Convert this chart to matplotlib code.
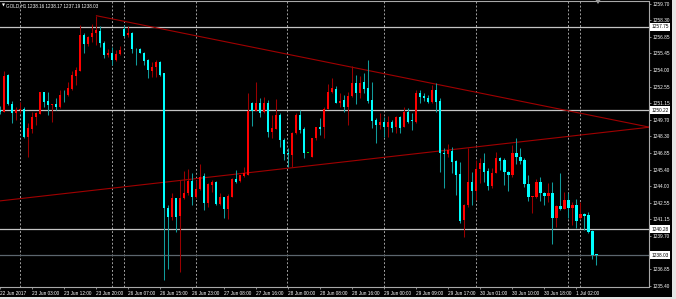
import numpy as np
import matplotlib.pyplot as plt
from matplotlib.patches import Rectangle, Polygon

# GOLD H1 candles, one row per bar
opens = [1250.60, 1250.42, 1253.55, 1251.08, 1250.33, 1250.56, 1250.65, 1248.26, 1248.92, 1249.93,
         1250.22, 1252.08, 1251.34, 1250.96, 1251.08, 1250.79, 1251.94, 1251.85, 1252.37, 1253.52,
         1253.92, 1257.03, 1256.25, 1256.83, 1257.17, 1257.40, 1256.37, 1255.28, 1255.45, 1254.87,
         1255.39, 1257.52, 1256.99, 1257.23, 1255.82, 1255.79, 1255.50, 1254.87, 1253.95, 1254.30,
         1254.73, 1253.72, 1242.08, 1241.31, 1242.95, 1241.42, 1242.95, 1243.43, 1244.47, 1243.03,
         1243.72, 1244.87, 1242.51, 1244.10, 1244.39, 1242.46, 1243.03, 1242.00, 1243.09, 1244.59,
         1244.47, 1244.87, 1244.96, 1251.19, 1250.50, 1251.14, 1250.42, 1251.14, 1248.69, 1248.90,
         1250.13, 1247.98, 1246.80, 1246.68, 1248.55, 1250.13, 1248.92, 1246.88, 1246.54, 1248.12,
         1249.13, 1249.07, 1250.62, 1252.14, 1252.37, 1251.19, 1251.42, 1250.79, 1251.77, 1252.92,
         1252.06, 1253.00, 1252.43, 1251.42, 1249.70, 1249.27, 1249.53, 1249.13, 1249.56, 1249.07,
         1249.99, 1249.13, 1250.42, 1249.64, 1249.56, 1252.06, 1251.77, 1251.60, 1251.28, 1252.29,
         1251.37, 1246.88, 1246.77, 1247.06, 1246.17, 1245.02, 1241.08, 1242.37, 1244.39, 1243.61,
         1245.51, 1246.02, 1245.31, 1244.04, 1245.16, 1246.40, 1246.25, 1245.19, 1244.96, 1246.83,
         1246.54, 1246.25, 1244.18, 1243.09, 1243.09, 1244.39, 1243.43, 1243.15, 1243.43, 1241.22,
         1242.29, 1242.03, 1242.80, 1242.08, 1242.37, 1241.22, 1241.60, 1241.51, 1240.13, 1238.16]
highs = [1250.90, 1253.92, 1253.67, 1251.34, 1250.85, 1251.28, 1250.79, 1249.41, 1250.42, 1250.42,
         1252.14, 1252.14, 1252.14, 1251.10, 1251.57, 1252.29, 1252.29, 1253.00, 1253.95, 1254.30,
         1257.89, 1257.17, 1256.94, 1257.98, 1258.69, 1257.80, 1256.54, 1255.80, 1256.02, 1255.74,
         1256.08, 1257.89, 1257.80, 1257.31, 1255.88, 1255.94, 1255.59, 1254.93, 1254.73, 1254.87,
         1254.75, 1253.75, 1242.37, 1243.38, 1243.00, 1244.53, 1245.33, 1245.45, 1245.16, 1244.53,
         1245.91, 1245.10, 1244.30, 1244.53, 1244.47, 1243.43, 1243.09, 1243.32, 1244.67, 1245.39,
         1244.96, 1245.62, 1252.00, 1251.28, 1253.00, 1251.57, 1251.65, 1251.42, 1250.13, 1251.48,
         1250.27, 1248.12, 1247.26, 1248.69, 1250.27, 1250.56, 1249.07, 1246.88, 1248.12, 1249.13,
         1249.84, 1250.85, 1252.80, 1253.29, 1252.63, 1252.06, 1251.86, 1252.14, 1254.36, 1253.58,
         1253.49, 1253.78, 1254.87, 1253.00, 1249.84, 1250.33, 1249.93, 1250.04, 1249.70, 1250.04,
         1250.04, 1250.79, 1250.70, 1250.27, 1252.29, 1252.29, 1252.00, 1251.86, 1252.72, 1252.86,
         1251.57, 1247.26, 1247.63, 1247.40, 1246.25, 1246.11, 1242.46, 1247.26, 1245.25, 1246.25,
         1246.45, 1246.88, 1245.54, 1245.54, 1246.97, 1246.54, 1246.40, 1245.33, 1247.54, 1248.12,
         1247.26, 1246.40, 1244.96, 1243.18, 1244.59, 1244.76, 1243.52, 1244.30, 1244.39, 1242.37,
         1245.10, 1243.52, 1243.43, 1242.66, 1242.86, 1242.66, 1241.71, 1241.80, 1240.22, 1238.17]
lows = [1250.20, 1250.36, 1250.96, 1249.47, 1249.70, 1250.27, 1248.12, 1246.54, 1248.55, 1249.27,
        1250.22, 1250.85, 1250.13, 1249.56, 1250.56, 1250.70, 1251.28, 1251.77, 1252.29, 1252.72,
        1253.92, 1255.45, 1256.08, 1256.45, 1256.17, 1256.02, 1255.02, 1255.16, 1254.44, 1254.81,
        1255.30, 1256.88, 1256.88, 1255.45, 1254.44, 1255.45, 1254.44, 1253.29, 1253.43, 1253.43,
        1253.50, 1235.90, 1236.86, 1241.08, 1240.07, 1236.62, 1242.86, 1243.23, 1242.37, 1242.95,
        1243.66, 1241.94, 1242.17, 1243.52, 1242.37, 1242.37, 1241.22, 1241.14, 1243.03, 1244.24,
        1244.39, 1244.82, 1244.96, 1249.18, 1250.50, 1249.99, 1250.28, 1248.26, 1248.12, 1248.90,
        1247.40, 1246.25, 1245.68, 1245.68, 1248.49, 1248.61, 1246.40, 1246.88, 1246.48, 1247.98,
        1248.41, 1248.12, 1250.62, 1252.00, 1251.14, 1250.85, 1250.42, 1249.27, 1251.71, 1251.08,
        1251.57, 1251.99, 1251.14, 1248.98, 1247.69, 1248.90, 1248.20, 1248.26, 1248.69, 1248.61,
        1248.55, 1249.07, 1249.41, 1248.84, 1249.47, 1251.14, 1251.36, 1251.19, 1251.19, 1250.42,
        1245.25, 1243.81, 1246.54, 1245.10, 1243.23, 1240.85, 1239.64, 1242.23, 1242.37, 1242.80,
        1244.24, 1244.39, 1243.66, 1243.81, 1245.10, 1245.39, 1244.10, 1243.61, 1244.82, 1245.91,
        1245.91, 1243.90, 1242.75, 1241.71, 1242.95, 1242.75, 1242.37, 1242.66, 1239.01, 1240.50,
        1241.94, 1242.00, 1241.22, 1240.65, 1240.36, 1241.14, 1240.22, 1239.99, 1237.69, 1237.19]
closes = [1250.40, 1253.49, 1251.05, 1250.27, 1250.56, 1250.65, 1248.23, 1248.98, 1249.93, 1250.27,
          1252.08, 1251.28, 1250.99, 1251.08, 1250.82, 1251.85, 1251.90, 1252.43, 1253.58, 1254.01,
          1257.03, 1256.25, 1256.83, 1257.17, 1257.46, 1256.31, 1255.28, 1255.50, 1254.87, 1255.39,
          1255.73, 1256.94, 1257.23, 1255.79, 1255.79, 1255.50, 1254.81, 1254.01, 1254.30, 1254.73,
          1253.58, 1242.08, 1241.31, 1242.95, 1241.37, 1242.95, 1243.43, 1244.47, 1243.03, 1243.72,
          1244.82, 1242.51, 1244.18, 1244.39, 1242.46, 1243.03, 1242.00, 1243.15, 1244.59, 1244.39,
          1244.96, 1245.10, 1250.50, 1250.50, 1251.14, 1250.28, 1251.14, 1248.69, 1248.98, 1250.13,
          1247.98, 1246.77, 1246.77, 1248.55, 1250.13, 1248.84, 1246.88, 1246.88, 1248.12, 1249.13,
          1248.95, 1250.62, 1252.14, 1252.43, 1251.19, 1251.36, 1250.85, 1251.77, 1252.92, 1252.06,
          1252.92, 1252.34, 1251.37, 1249.64, 1249.27, 1249.53, 1249.13, 1249.53, 1248.98, 1249.93,
          1248.98, 1250.42, 1249.56, 1249.61, 1252.06, 1251.65, 1251.57, 1251.28, 1252.29, 1251.28,
          1246.83, 1246.74, 1247.11, 1246.11, 1244.96, 1241.02, 1242.37, 1244.39, 1243.61, 1245.51,
          1246.02, 1245.25, 1244.04, 1245.16, 1246.40, 1246.20, 1245.19, 1244.96, 1246.83, 1246.48,
          1246.20, 1244.18, 1243.09, 1243.18, 1244.39, 1243.38, 1243.15, 1243.43, 1241.22, 1242.29,
          1242.03, 1242.80, 1242.08, 1242.37, 1240.99, 1241.60, 1241.42, 1240.07, 1238.06, 1238.03]

price_ticks = [1259.70, 1258.30, 1256.85, 1255.45, 1254.00, 1252.55, 1251.15, 1249.70, 1248.30,
               1246.85, 1245.40, 1244.00, 1242.55, 1241.15, 1239.70, 1238.25, 1236.85, 1235.40]
time_ticks = [0, 8, 16, 24, 32, 40, 48, 56, 64, 72, 80, 88, 96, 104, 112, 120, 128, 136, 144]
time_labels = ["22 Jun 2017", "23 Jun 03:00", "23 Jun 12:00", "23 Jun 20:00", "26 Jun 07:00",
               "26 Jun 15:00", "26 Jun 23:00", "27 Jun 08:00", "27 Jun 16:00", "28 Jun 00:00",
               "28 Jun 08:00", "28 Jun 16:00", "29 Jun 00:00", "29 Jun 09:00", "29 Jun 17:00",
               "30 Jun 01:00", "30 Jun 10:00", "30 Jun 18:00", "1 Jul 02:00"]
separators = [4.9, 27.9, 31.0, 48.9, 71.8, 95.9, 118.9, 141.9, 144.9]
level_values = [1257.75, 1250.56, 1240.28, 1238.03]
level_labels = ["1257.75", "1250.22", "1240.28", "1238.03"]
level_colors = ["#c4c4c4", "#c4c4c4", "#c4c4c4", "#5c666e"]
trend_x = [[24.1, 162.08], [0.08, 162.08]]
trend_y = [[1258.69, 1249.10], [1242.73, 1249.07]]
header = "GOLD,H1 1238.16 1238.17 1237.19 1238.03"

plt.rcParams['font.family'] = ['Liberation Sans', 'DejaVu Sans']

W, H = 676, 299
fig = plt.figure(figsize=(W / 100, H / 100), dpi=100, facecolor='black')
ax = fig.add_axes([0, 12.5 / H, 648.5 / W, 285.5 / H], facecolor='black')

o = np.array(opens)
h = np.array(highs)
l = np.array(lows)
c = np.array(closes)
idx = np.arange(len(o))

colors = np.where(c > o, '#ff0000', np.where(c < o, '#00ffff', '#00e000'))
wick_colors = np.where(c > o, '#9a0000', np.where(c < o, '#109c9c', '#00b000'))

# period separators
for s in separators:
    ax.axvline(s, color='#a0a0a0', lw=0.7, ls=(0, (2, 2)), zorder=1)

# horizontal levels
for v, col in zip(level_values, level_colors):
    ax.axhline(v, color=col, lw=0.9, zorder=1)

# trend lines
for tx, ty in zip(trend_x, trend_y):
    ax.plot(tx, ty, color='#a00000', lw=0.8, zorder=2)

ax.vlines(idx, l, h, colors=wick_colors, lw=0.75, zorder=3)
body = np.maximum(np.abs(c - o), 0.07)
ax.bar(idx, body, bottom=np.minimum(o, c), width=0.68, color=colors, lw=0, zorder=4)

ax.set_xlim(0.08, 162.08)
ax.set_ylim(1235.347, 1259.959)

ax.yaxis.tick_right()
ax.set_yticks(price_ticks)
ax.set_yticklabels(["%.2f" % p for p in price_ticks])
ax.tick_params(axis='y', colors='#a0a0a0', labelcolor='white', labelsize=3.4,
               length=1.5, width=0.6, pad=1.5)
ax.set_xticks(time_ticks)
ax.set_xticklabels(time_labels)
ax.tick_params(axis='x', colors='#a0a0a0', labelcolor='white', labelsize=3.4,
               length=1.5, width=0.6, pad=1.5)
for lbl in ax.get_xticklabels():
    lbl.set_ha('left')

for s in ['top', 'right', 'bottom']:
    ax.spines[s].set_color('#a8a8a8')
    ax.spines[s].set_linewidth(0.8)
ax.spines['left'].set_visible(False)

# price boxes on the right axis
for v, txt in zip(level_values, level_labels):
    ax.text(1.0045, v, txt, transform=ax.get_yaxis_transform(), fontsize=3.4,
            color='black', va='center', ha='left', zorder=10, clip_on=False,
            bbox=dict(boxstyle='square,pad=0.3', fc='white', ec='none'))

fig.text(1.5 / W, 1 - 5.5 / H, "\u25bc", fontsize=2.8, color='white', va='center',
         family='DejaVu Sans')
fig.text(5.5 / W, 1 - 5.5 / H, header, fontsize=3.3, color='white', va='center')

# chart shift marker and window borders
fig.patches.append(Polygon([[595.5 / W, 1.0], [600.5 / W, 1.0], [598 / W, 1 - 4 / H]],
                           closed=True, transform=fig.transFigure, fc='#9a9a9a', ec='none'))
fig.patches.append(Rectangle((672 / W, 0), 4 / W, 1, transform=fig.transFigure,
                             fc='#e4e4e4', ec='none'))
fig.patches.append(Rectangle((0, 0), 1, 2 / H, transform=fig.transFigure,
                             fc='#e4e4e4', ec='none'))

fig.savefig('out.png', dpi=100, facecolor='black')
